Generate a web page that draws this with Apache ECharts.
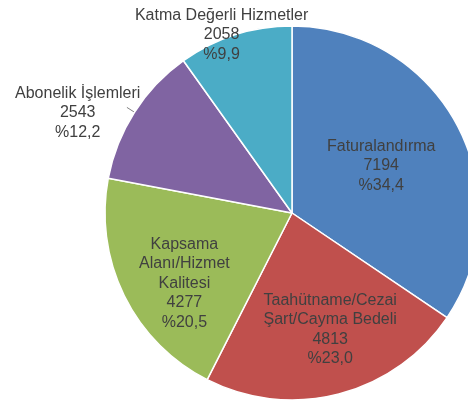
<!DOCTYPE html>
<html><head><meta charset="utf-8">
<script src="https://cdn.jsdelivr.net/npm/echarts@6/dist/echarts.min.js"></script>
<style>html,body{margin:0;padding:0;background:#fff}#c{width:468px;height:407px}</style>
</head><body><div id="c"></div>
<script>
const categories = ['Faturalandırma', 'Taahütname/Cezai\nŞart/Cayma Bedeli', 'Kapsama\nAlanı/Hizmet\nKalitesi', 'Abonelik İşlemleri', 'Katma Değerli Hizmetler'];
const values = [7194, 4813, 4277, 2543, 2058];
const percentLabels = ['%34,4', '%23,0', '%20,5', '%12,2', '%9,9'];
const colors = ['#4F81BD', '#C0504D', '#9BBB59', '#8064A2', '#4BACC6'];
// label nudges from library's default inside position
const labelShift = [[4, -2], [14, 23], [-21, 28], [-133, -48], [-41, -86]];
const leaderIndex = 3;

const chart = echarts.init(document.getElementById('c'), null, {renderer: 'canvas'});
chart.setOption({
  animation: false,
  series: [{
    type: 'pie',
    center: [292, 213],
    radius: 187,
    startAngle: 90,
    clockwise: true,
    avoidLabelOverlap: false,
    itemStyle: {borderColor: '#ffffff', borderWidth: 1.5},
    label: {
      show: true,
      position: 'inside',
      color: '#404040',
      fontFamily: 'Liberation Sans, Arial, sans-serif',
      fontSize: 16,
      lineHeight: 19.5,
      formatter: p => p.name + '\n' + p.value + '\n' + percentLabels[p.dataIndex]
    },
    labelLine: {show: false},
    labelLayout: p => ({dx: labelShift[p.dataIndex][0], dy: labelShift[p.dataIndex][1]}),
    data: categories.map((c, i) => ({name: c, value: values[i], itemStyle: {color: colors[i]}}))
  }, {
    type: 'pie',
    silent: true,
    center: [292, 213],
    radius: 187,
    startAngle: 90,
    clockwise: true,
    avoidLabelOverlap: false,
    z: 1,
    itemStyle: {color: 'rgba(0,0,0,0)', borderWidth: 0},
    label: {show: false, position: 'outside', formatter: ' ', fontSize: 4, distanceToLabelLine: 0},
    labelLine: {show: false, length: 9, length2: 0, lineStyle: {color: '#808080', width: 1}},
    data: categories.map((c, i) => ({
      name: c, value: values[i],
      label: {show: i === leaderIndex},
      labelLine: {show: i === leaderIndex}
    }))
  }]
});
</script>
</body></html>
